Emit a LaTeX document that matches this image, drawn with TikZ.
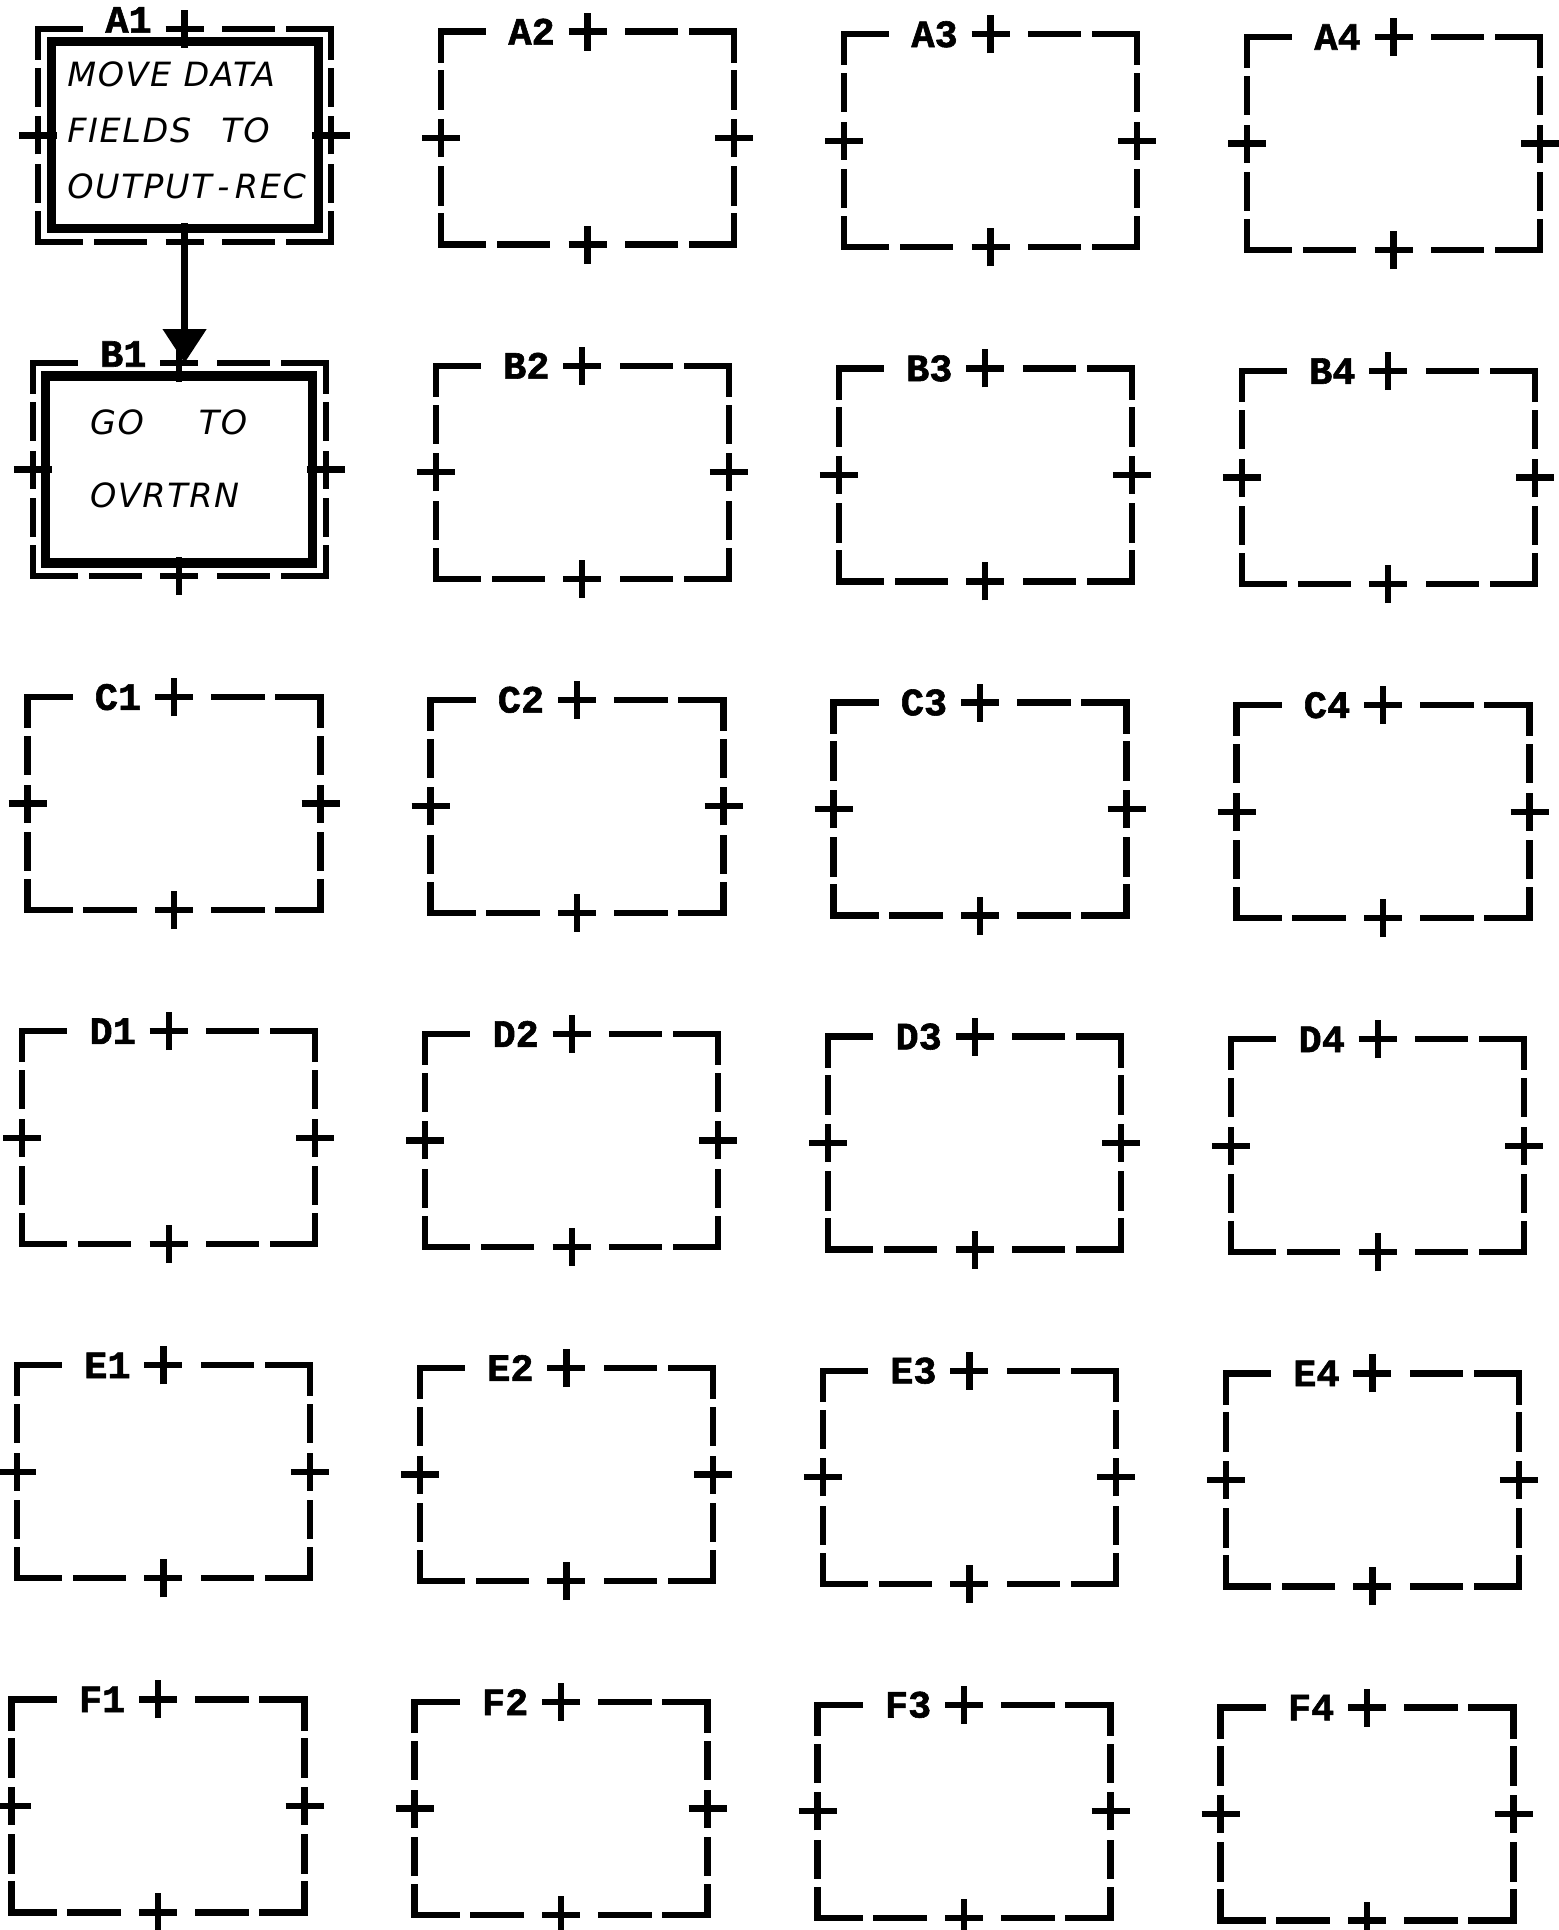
\documentclass[tikz,border=0pt]{standalone}
\usepackage{fontspec}
\newfontfamily\boxlabelfont{Liberation Mono}[BoldFeatures={FakeBold=1.5}]
\newfontfamily\handfont{DejaVu Sans}[LetterSpace=5]
\usetikzlibrary{arrows.meta}

\tikzset{
  chartbox/.style={rectangle, draw=none, minimum width=2.93cm, minimum height=2.13cm, inner sep=0pt, outer sep=0pt},
  topside/.style={line width=1.8pt, line cap=rect, dash pattern=on 0.42cm off 1.45cm on 0.47cm off 0.17cm on 0.42cm off 2cm},
  hside/.style={line width=1.8pt, line cap=rect, dash pattern=on 0.42cm off 0.17cm on 0.47cm off 0.81cm on 0.47cm off 0.17cm on 0.42cm off 2cm},
  vside/.style={line width=1.8pt, line cap=rect, dash pattern=on 0.28cm off 0.14cm on 0.33cm off 0.63cm on 0.33cm off 0.14cm on 0.28cm off 2cm},
  tick/.style={line width=1.8pt},
  boxlabel/.style={font=\boxlabelfont\bfseries\fontsize{11}{11}\selectfont, inner sep=0pt},
  procbox/.style={draw, line width=2.6pt, minimum width=2.67cm, minimum height=1.87cm},
  handtext/.style={font=\handfont\itshape\fontsize{9.5}{16}\selectfont, align=left, inner sep=0pt},
  flow/.style={line width=2.2pt, -{Triangle[width=0.42cm,length=0.34cm]}}
}

\begin{document}
\begin{tikzpicture}
\useasboundingbox (0,0) rectangle (15.59,-19.30);
% the chart grid, rows A-F and columns 1-4
\foreach \row [count=\r from 0] in {A,B,C,D,E,F} {
  \foreach \col [count=\c from 0] in {1,2,3,4} {
    \pgfmathsetmacro{\bx}{1.846+4.03*\c-0.053*\r}
    \pgfmathsetmacro{\by}{-1.354-3.341*\r-0.027*\c}
    \pgfmathsetmacro{\ly}{and(\c==0,\r<2)*0.09}
    \node[chartbox] (\row\col) at (\bx,\by) {};
    \draw[topside] (\row\col.north west) -- (\row\col.north east);
    \draw[hside] (\row\col.south west) -- (\row\col.south east);
    \draw[vside] (\row\col.north west) -- (\row\col.south west);
    \draw[vside] (\row\col.north east) -- (\row\col.south east);
    \foreach \side in {north,south,east,west}
      \draw[tick] (\row\col.\side) +(-0.19,0) -- +(0.19,0) +(0,-0.19) -- +(0,0.19);
    \node[boxlabel] (lbl\row\col) at ([xshift=-0.56cm,yshift=\ly cm]\row\col.north) {\row\col};
  }
}
% the two filled-in blocks
\node[procbox] (A1in) at (A1) {};
\node[handtext, anchor=west] (A1txt) at ([xshift=-1.18cm,yshift=0.05cm]A1.center) {MOVE DATA\\FIELDS\hspace{0.3cm}TO\\OUTPUT\,-\,REC};
\node[procbox] (B1in) at (B1) {};
\node[handtext, anchor=west] (B1txt) at ([xshift=-0.9cm,yshift=0.11cm]B1.center) {GO\hspace{0.55cm}TO\\[0.17cm]OVRTRN};
\draw[flow] (A1in.south) -- (A1in.south |- B1.north);
\end{tikzpicture}
\end{document}
